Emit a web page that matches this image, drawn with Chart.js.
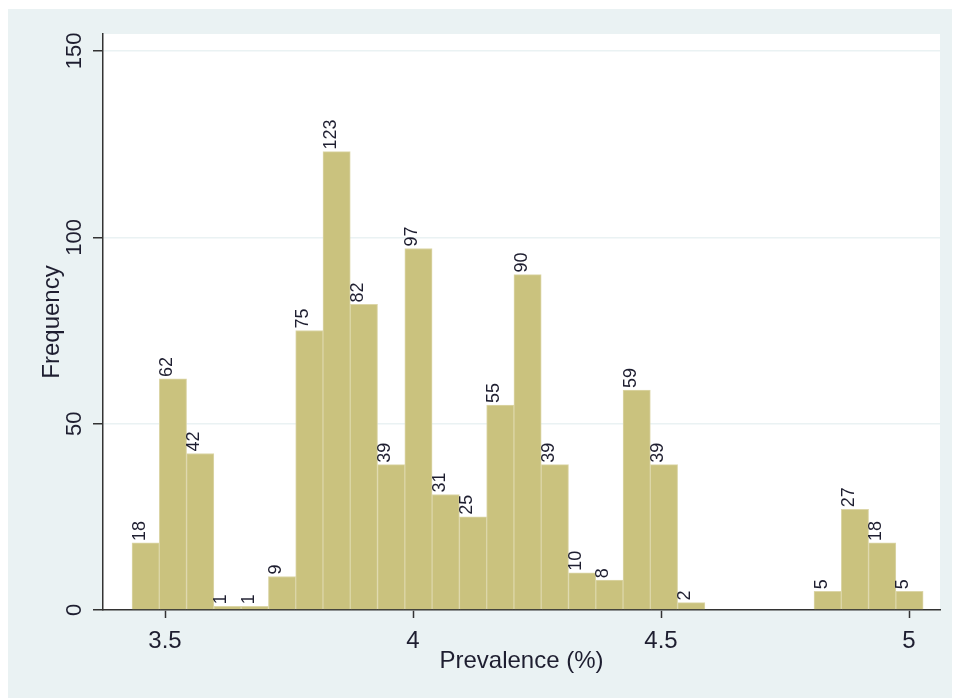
<!DOCTYPE html>
<html>
<head>
<meta charset="utf-8">
<script src="https://cdn.jsdelivr.net/npm/chart.js@4"></script>
<style>
  body { margin: 0; background: #fff; }
  canvas { display: block; }
</style>
</head>
<body>
<canvas id="grafico" width="954" height="698"></canvas>
<script>
// bin midpoints (prevalence %) and frequencies, null = empty bin
var binMids = [3.461, 3.516, 3.571, 3.626, 3.681, 3.736, 3.791, 3.846, 3.901, 3.956,
               4.011, 4.066, 4.121, 4.176, 4.231, 4.286, 4.341, 4.396, 4.451, 4.506,
               4.561, 4.616, 4.671, 4.726, 4.781, 4.836, 4.891, 4.946, 5.001];
var frequencies = [18, 62, 42, 1, 1, 9, 75, 123, 82, 39,
                   97, 31, 25, 55, 90, 39, 10, 8, 59, 39,
                   2, null, null, null, null, 5, 27, 18, 5];
var xTicks = [3.5, 4, 4.5, 5];
var yTicks = [0, 50, 100, 150];

var FONT = "'Liberation Sans', Arial, sans-serif";
var TEXT = '#1e1e30';

var punti = [];
for (var i = 0; i < binMids.length; i++) {
    punti.push({ x: binMids[i], y: frequencies[i] });
}

// sfondo esterno e area del grafico
var sfondo = {
    id: 'sfondo',
    beforeDraw: function (chart) {
        var c = chart.ctx, a = chart.chartArea;
        c.save();
        c.fillStyle = '#ffffff';
        c.fillRect(0, 0, chart.width, chart.height);
        c.fillStyle = '#eaf2f3';
        c.fillRect(8, 9, 944, 689);
        c.fillStyle = '#ffffff';
        c.fillRect(a.left, a.top, a.right - a.left, a.bottom - a.top);
        c.restore();
    }
};

// etichette verticali sopra le barre + tick dell'asse y ruotati
var etichette = {
    id: 'etichette',
    afterDatasetsDraw: function (chart) {
        var c = chart.ctx;
        var meta = chart.getDatasetMeta(0);
        c.save();
        c.fillStyle = TEXT;
        c.font = '18px ' + FONT;
        c.textAlign = 'left';
        c.textBaseline = 'middle';
        meta.data.forEach(function (bar, i) {
            var v = frequencies[i];
            if (v === null) return;
            c.save();
            c.translate(bar.x - 6, bar.y - 2);
            c.rotate(-Math.PI / 2);
            c.fillText(String(v), 0, 0);
            c.restore();
        });
        var ys = chart.scales.y;
        c.font = '22px ' + FONT;
        c.textAlign = 'center';
        yTicks.forEach(function (t) {
            c.save();
            c.translate(75, ys.getPixelForValue(t));
            c.rotate(-Math.PI / 2);
            c.fillText(String(t), 0, 0);
            c.restore();
        });
        c.restore();
    }
};

var chart = new Chart(document.getElementById('grafico'), {
    type: 'bar',
    data: {
        datasets: [{
            data: punti,
            backgroundColor: 'rgb(202,194,126)',
            borderColor: 'rgb(220,214,168)',
            borderWidth: 1,
            barPercentage: 1,
            categoryPercentage: 1
        }]
    },
    options: {
        responsive: false,
        animation: false,
        layout: { padding: { top: 34, right: 14, left: 0, bottom: 0 } },
        plugins: { legend: { display: false }, tooltip: { enabled: false } },
        scales: {
            x: {
                type: 'linear',
                min: 3.375,
                max: 5.0625,
                offset: false,
                afterBuildTicks: function (s) { s.ticks = xTicks.map(function (v) { return { value: v }; }); },
                afterFit: function (s) { s.height = 88; },
                grid: { drawOnChartArea: false, offset: false, tickLength: 8, tickColor: '#333', tickWidth: 1.5 },
                border: { color: '#333', width: 1.5 },
                ticks: {
                    autoSkip: false, maxRotation: 0, padding: 9, color: TEXT, font: { family: FONT, size: 24 },
                    callback: function (v) { return String(v); }
                },
                title: { display: true, text: 'Prevalence (%)', color: TEXT, font: { family: FONT, size: 24 }, padding: { top: 0, bottom: 22 } }
            },
            y: {
                min: 0,
                max: 154.55,
                afterBuildTicks: function (s) { s.ticks = yTicks.map(function (v) { return { value: v }; }); },
                afterFit: function (s) { s.width = 103; },
                grid: { color: '#eaf2f3', lineWidth: 1.5, tickLength: 10, tickColor: '#333', tickWidth: 1.5 },
                border: { color: '#333', width: 1.5 },
                ticks: { display: false },
                title: { display: true, text: 'Frequency', color: TEXT, font: { family: FONT, size: 24 }, padding: { top: 38, bottom: 0 } }
            }
        }
    },
    plugins: [sfondo, etichette]
});
</script>
</body>
</html>
